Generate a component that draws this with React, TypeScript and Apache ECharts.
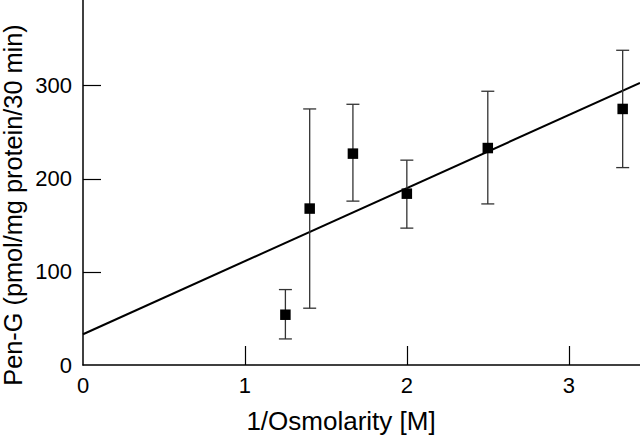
import React, { useEffect, useRef } from "react";
import * as echarts from "echarts";

const xValues = [1.25, 1.4, 1.667, 2.0, 2.5, 3.333];
const yValues = [54, 168, 227, 184, 233, 275];
const errLow = [28, 61, 176, 147, 173, 212];
const errHigh = [81, 275, 280, 220, 294, 338];
const fitLine = [
  [0, 33],
  [3.44, 303],
];
const xTickLabels = [0, 1, 2, 3];
const yTickLabels = [0, 100, 200, 300];

export default function App() {
  const ref = useRef<HTMLDivElement>(null);
  useEffect(() => {
    if (!ref.current) return;
    const chart = echarts.init(ref.current, null, { renderer: "svg" });
    const font = "'Liberation Sans', Arial, Helvetica, sans-serif";
    const points = xValues.map((x, i) => [x, yValues[i]]);
    const errData = xValues.map((x, i) => [x, errLow[i], errHigh[i]]);
    chart.setOption({
      animation: false,
      backgroundColor: "#fff",
      grid: { left: 83, right: 0, top: 0, bottom: 71 },
      xAxis: {
        type: "value",
        min: 0,
        max: 3.44,
        interval: 1,
        splitLine: { show: false },
        axisLine: { lineStyle: { color: "#000", width: 1.5 } },
        axisTick: {
          inside: true,
          length: 19,
          customValues: [1, 2, 3],
          lineStyle: { color: "#000", width: 1.2 },
        },
        axisLabel: {
          customValues: xTickLabels,
          color: "#000",
          fontSize: 22,
          fontFamily: font,
          margin: 9,
        },
      },
      yAxis: {
        type: "value",
        min: 0,
        max: 392,
        interval: 100,
        splitLine: { show: false },
        axisLine: { show: true, lineStyle: { color: "#000", width: 1.5 } },
        axisTick: {
          show: true,
          inside: true,
          length: 18,
          customValues: [100, 200, 300],
          lineStyle: { color: "#000", width: 1.2 },
        },
        axisLabel: {
          customValues: yTickLabels,
          color: "#000",
          fontSize: 22,
          fontFamily: font,
          margin: 11,
        },
      },
      graphic: [
        {
          type: "text",
          x: 341,
          y: 421,
          style: {
            text: "1/Osmolarity [M]",
            fontSize: 26,
            fontFamily: font,
            fill: "#000",
            align: "center",
            verticalAlign: "middle",
          },
        },
        {
          type: "text",
          x: 13,
          y: 205,
          rotation: Math.PI / 2,
          style: {
            text: "Pen-G (pmol/mg protein/30 min)",
            fontSize: 25.3,
            fontFamily: font,
            fill: "#000",
            align: "center",
            verticalAlign: "middle",
          },
        },
      ],
      series: [
        {
          type: "line",
          data: fitLine,
          showSymbol: false,
          symbol: "none",
          lineStyle: { color: "#000", width: 2 },
          z: 1,
        },
        {
          type: "custom",
          data: errData,
          z: 2,
          renderItem: (params: any, api: any) => {
            const x = api.value(0);
            const lo = api.coord([x, api.value(1)]);
            const hi = api.coord([x, api.value(2)]);
            const hw = 6.5;
            const style = { stroke: "#333", lineWidth: 1.3 };
            return {
              type: "group",
              children: [
                { type: "line", shape: { x1: lo[0], y1: lo[1], x2: hi[0], y2: hi[1] }, style },
                { type: "line", shape: { x1: lo[0] - hw, y1: lo[1], x2: lo[0] + hw, y2: lo[1] }, style },
                { type: "line", shape: { x1: hi[0] - hw, y1: hi[1], x2: hi[0] + hw, y2: hi[1] }, style },
              ],
            };
          },
        },
        {
          type: "scatter",
          data: points,
          symbol: "rect",
          symbolSize: 10.5,
          itemStyle: { color: "#000", opacity: 1 },
          emphasis: { disabled: true },
          z: 3,
        },
      ],
    });
    return () => chart.dispose();
  }, []);
  return (
    <div
      ref={ref}
      style={{ position: "fixed", left: 0, top: 0, width: 640, height: 436 }}
    />
  );
}
